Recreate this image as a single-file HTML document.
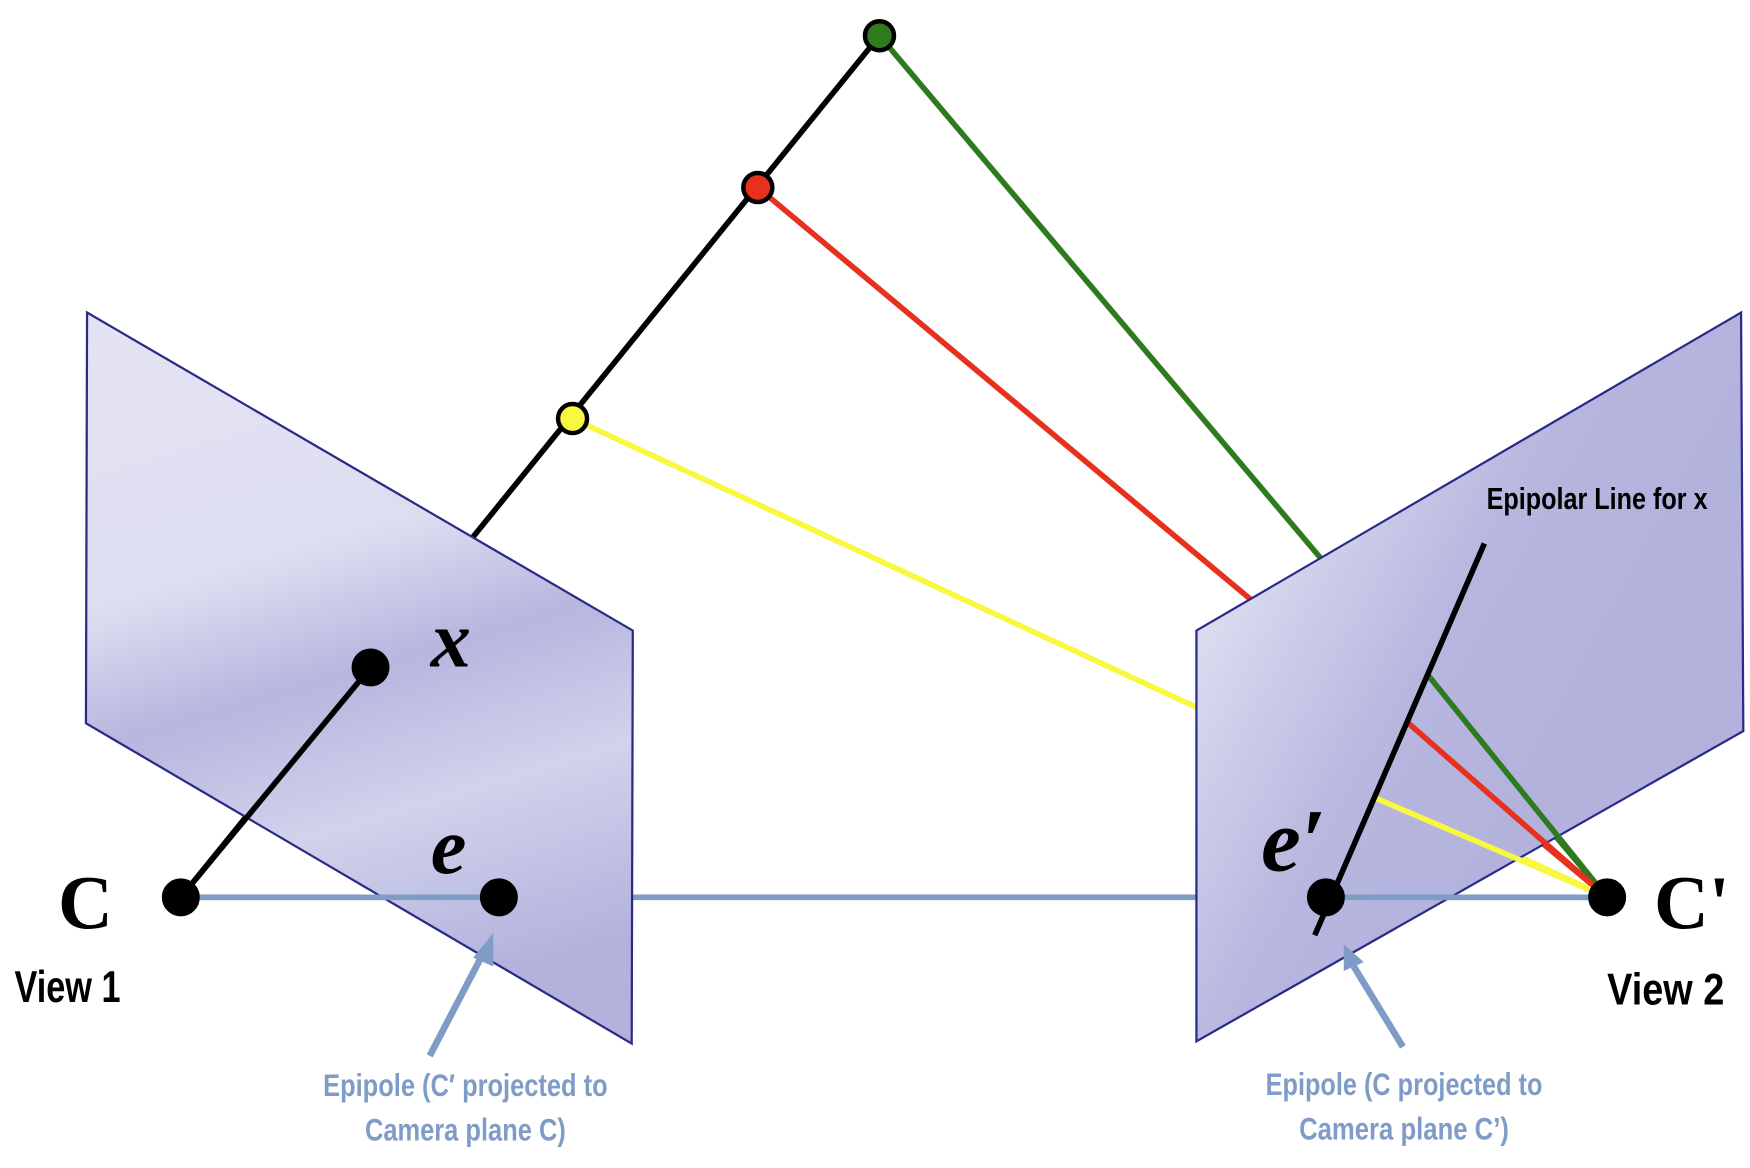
<!DOCTYPE html>
<html><head><meta charset="utf-8"><style>
html,body{margin:0;padding:0;background:#fff;}
svg{display:block;}
.cond{font-family:"Liberation Sans",sans-serif;font-weight:bold;}
.serif{font-family:"Liberation Serif",serif;font-weight:bold;}
</style></head><body>
<svg width="1750" height="1168" viewBox="0 0 1568 1046.5" preserveAspectRatio="none">
<defs>
<linearGradient id="gl" x1="0.35" y1="0.05" x2="0.55" y2="0.95">
<stop offset="0" stop-color="#e2e2f3"/><stop offset="0.3" stop-color="#dedef1"/><stop offset="0.5" stop-color="#b6b6df"/><stop offset="0.72" stop-color="#d2d2ec"/><stop offset="1" stop-color="#b2b2dd"/></linearGradient>
<linearGradient id="gr" x1="0.05" y1="0.3" x2="0.6" y2="0.7">
<stop offset="0" stop-color="#e0e0f2"/><stop offset="0.6" stop-color="#b6b6df"/><stop offset="1" stop-color="#b2b2dd"/></linearGradient>
</defs>
<g stroke-width="5">
<line x1="788" y1="32" x2="1440" y2="804" stroke="#2e7a1e"/>
<line x1="679" y1="168" x2="1440" y2="804" stroke="#e8301e"/>
<line x1="513" y1="375" x2="1440" y2="804" stroke="#f8f840"/>
<line x1="788" y1="32" x2="162" y2="804" stroke="#000"/>
</g>
<line x1="162" y1="804" x2="1440" y2="804" stroke="#7f9cc6" stroke-width="5"/>
<polygon points="78,280 567,565 566,935 77,648" fill="url(#gl)" stroke="#2a2a88" stroke-width="2"/>
<polygon points="1072,565 1560,280 1562,655 1072,933" fill="url(#gr)" stroke="#2a2a88" stroke-width="2"/>
<line x1="332" y1="598" x2="162" y2="804" stroke="#000" stroke-width="5"/>
<line x1="162" y1="804" x2="447" y2="804" stroke="#7f9cc6" stroke-width="5"/>
<line x1="1188" y1="804" x2="1440" y2="804" stroke="#7f9cc6" stroke-width="5"/>
<line x1="1278" y1="603" x2="1440" y2="804" stroke="#2e7a1e" stroke-width="5"/>
<line x1="1262" y1="648" x2="1440" y2="804" stroke="#e8301e" stroke-width="5"/>
<line x1="1230" y1="714" x2="1440" y2="804" stroke="#f8f840" stroke-width="5"/>
<line x1="1330" y1="487" x2="1178" y2="838" stroke="#000" stroke-width="5"/>
<g stroke="#000" stroke-width="4">
<circle cx="788" cy="32" r="13" fill="#2e7a1e"/>
<circle cx="679" cy="168" r="13" fill="#e8301e"/>
<circle cx="513" cy="375" r="13" fill="#f8f840"/>
<circle cx="332" cy="598" r="15" fill="#000"/>
<circle cx="162" cy="804" r="15" fill="#000"/>
<circle cx="447" cy="804" r="15" fill="#000"/>
<circle cx="1188" cy="804" r="15" fill="#000"/>
<circle cx="1440" cy="804" r="15" fill="#000"/>
</g>
<g stroke="#7f9cc6" stroke-width="6" fill="#7f9cc6">
<line x1="385" y1="946" x2="432" y2="856"/>
<polygon points="442,836 424,858 442,866" stroke="none"/>
<line x1="1257" y1="938" x2="1213" y2="866"/>
<polygon points="1204,846 1204,870 1222,862" stroke="none"/>
</g>
<text x="52" y="832" class="serif" font-size="68">C</text>
<text x="1482" y="832" class="serif" font-size="68">C'</text>
<text x="386" y="597" class="serif" font-size="72" font-style="italic">x</text>
<text x="386" y="782" class="serif" font-size="72" font-style="italic">e</text>
<text x="1130" y="780" class="serif" font-size="80" font-style="italic">e′</text>
<text x="13" y="898" class="cond" font-size="40" textLength="95" lengthAdjust="spacingAndGlyphs">View 1</text>
<text x="1440" y="900" class="cond" font-size="40" textLength="105" lengthAdjust="spacingAndGlyphs">View 2</text>
<text x="1332" y="456" class="cond" font-size="27" textLength="198" lengthAdjust="spacingAndGlyphs">Epipolar Line for x</text>
<g class="cond" font-size="28" fill="#7f9cc6" text-anchor="middle">
<text x="417" y="982" textLength="255" lengthAdjust="spacingAndGlyphs">Epipole (C′ projected to</text>
<text x="417" y="1022" textLength="180" lengthAdjust="spacingAndGlyphs">Camera plane C)</text>
</g>
<g class="cond" font-size="28" fill="#7f9cc6" text-anchor="middle">
<text x="1258" y="981" textLength="248" lengthAdjust="spacingAndGlyphs">Epipole (C projected to</text>
<text x="1258" y="1021" textLength="188" lengthAdjust="spacingAndGlyphs">Camera plane C’)</text>
</g>
</svg>
</body></html>
